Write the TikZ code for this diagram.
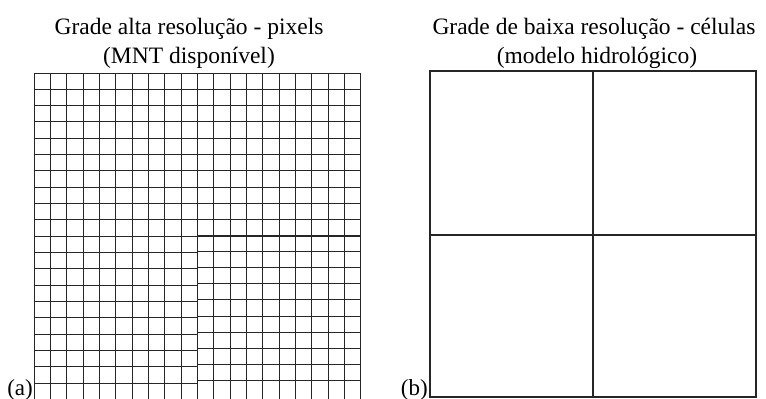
\documentclass[tikz,border=0pt]{standalone}
\usepackage{fontspec}
\setmainfont{Liberation Serif}
\begin{document}
\begin{tikzpicture}[x=1pt,y=-1pt,
  title/.style={font=\fontsize{23.5}{26}\selectfont, anchor=base, inner sep=0pt},
  tag/.style={font=\fontsize{23}{26}\selectfont, anchor=base east, inner sep=0pt},
  fine/.style={draw=black!85, line width=0.9pt},
  coarse/.style={draw=black!85, line width=1.4pt}]
\useasboundingbox (0,0) rectangle (766,399);
% titles
\node[title] (t1a) at (189,34) {Grade alta resolução - pixels};
\node[title] (t1b) at (189,63) {(MNT disponível)};
\node[title] (t2a) at (594,34) {Grade de baixa resolução - células};
\node[title] (t2b) at (597,63) {(modelo hidrológico)};
% labels
\node[tag] (la) at (33,395) {(a)};
\node[tag] (lb) at (428,395) {(b)};
% fine grid (four quadrants, slightly misaligned)
\begin{scope}
\clip (33,72) rectangle (362,400);
\foreach \i in {0,...,20} {
  \draw[fine] ({34.3+16.32*\i},73) -- ({34.3+16.32*\i},400);
}
% upper half
\foreach \j in {0,...,10} {
  \draw[fine] (34.3,{73+16.3*\j}) -- (360.7,{73+16.3*\j});
}
% lower left
\foreach \j in {0,...,10} {
  \draw[fine] (34.3,{236+16.35*\j}) -- (197.5,{236+16.35*\j});
}
% lower right
\foreach \j in {0,...,9} {
  \draw[fine] (197.5,{235+16.2*\j}) -- (360.7,{235+16.2*\j});
}
\end{scope}
% coarse grid
\draw[coarse] (430,71) rectangle (756,397);
\draw[coarse] (593,71) -- (593,397);
\draw[coarse] (430,235) -- (756,235);
\end{tikzpicture}
\end{document}
